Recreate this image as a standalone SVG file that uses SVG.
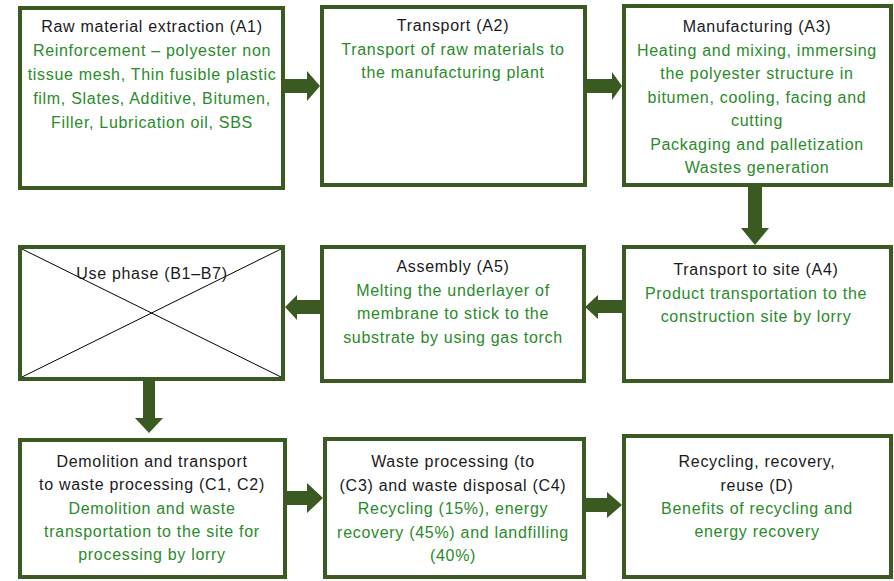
<svg xmlns="http://www.w3.org/2000/svg" width="894" height="581" viewBox="0 0 894 581">
<style>
.box{fill:#fff;stroke:#3a5a22;stroke-width:4}
.arr{fill:#3a5a22}
text{font-family:"Liberation Sans",Arial,sans-serif;font-size:16px;letter-spacing:0.7px;text-anchor:middle}
.t{fill:#1a1a1a}
.g{fill:#2a8a2a}
.x{stroke:#000;stroke-width:1}
</style>
<rect width="894" height="581" fill="#fff"/>
<g id="connectors">
<polygon class="arr" points="285,79 307,79 307,71 320,86 307,101 307,93 285,93"/>
<polygon class="arr" points="587,79 612,79 612,72 622,86 612,100 612,93 587,93"/>
<polygon class="arr" points="748,187 762,187 762,228 769,228 755,245 741,228 748,228"/>
<polygon class="arr" points="622,300 598,300 598,295 585,307 598,319 598,313 622,313"/>
<polygon class="arr" points="320,300 297,300 297,295 285,307 297,320 297,314 320,314"/>
<polygon class="arr" points="143,381 155,381 155,418 163,418 149,433 135,418 143,418"/>
<polygon class="arr" points="287,491 307,491 307,483 323,498 307,513 307,505 287,505"/>
<polygon class="arr" points="586,498 607,498 607,492 622,505 607,518 607,512 586,512"/>
</g>
<g id="a1">
<rect class="box" x="20" y="8" width="263" height="180"/>
<text class="t" x="152" y="32">Raw material extraction (A1)</text>
<text class="g" x="152" y="56">Reinforcement – polyester non</text>
<text class="g" x="152" y="80">tissue mesh, Thin fusible plastic</text>
<text class="g" x="152" y="104">film, Slates, Additive, Bitumen,</text>
<text class="g" x="152" y="128">Filler, Lubrication oil, SBS</text>
</g>
<g id="a2">
<rect class="box" x="322" y="7" width="263" height="178"/>
<text class="t" x="453" y="31">Transport (A2)</text>
<text class="g" x="453" y="54.5">Transport of raw materials to</text>
<text class="g" x="453" y="78">the manufacturing plant</text>
</g>
<g id="a3">
<rect class="box" x="624" y="6" width="267" height="179"/>
<text class="t" x="757" y="32">Manufacturing (A3)</text>
<text class="g" x="757" y="55.5">Heating and mixing, immersing</text>
<text class="g" x="757" y="79">the polyester structure in</text>
<text class="g" x="757" y="102.5">bitumen, cooling, facing and</text>
<text class="g" x="757" y="126">cutting</text>
<text class="g" x="757" y="149.5">Packaging and palletization</text>
<text class="g" x="757" y="173">Wastes generation</text>
</g>
<g id="use">
<rect class="box" x="20" y="247" width="263" height="132"/>
<line class="x" x1="22" y1="249" x2="281" y2="377"/>
<line class="x" x1="281" y1="249" x2="22" y2="377"/>
<text class="t" x="152" y="279">Use phase (B1–B7)</text>
</g>
<g id="a5">
<rect class="box" x="322" y="247" width="262" height="134"/>
<text class="t" x="453" y="272">Assembly (A5)</text>
<text class="g" x="453" y="295.5">Melting the underlayer of</text>
<text class="g" x="453" y="319">membrane to stick to the</text>
<text class="g" x="453" y="342.5">substrate by using gas torch</text>
</g>
<g id="a4">
<rect class="box" x="624" y="247" width="267" height="134"/>
<text class="t" x="756" y="275">Transport to site (A4)</text>
<text class="g" x="756" y="298.5">Product transportation to the</text>
<text class="g" x="756" y="322">construction site by lorry</text>
</g>
<g id="c1">
<rect class="box" x="20" y="440" width="265" height="137"/>
<text class="t" x="152" y="467">Demolition and transport</text>
<text class="t" x="152" y="490">to waste processing (C1, C2)</text>
<text class="g" x="152" y="513.5">Demolition and waste</text>
<text class="g" x="152" y="537">transportation to the site for</text>
<text class="g" x="152" y="560">processing by lorry</text>
</g>
<g id="c2">
<rect class="box" x="325" y="439" width="259" height="138"/>
<text class="t" x="453" y="467">Waste processing (to</text>
<text class="t" x="453" y="490.5">(C3) and waste disposal (C4)</text>
<text class="g" x="453" y="514">Recycling (15%), energy</text>
<text class="g" x="453" y="537.5">recovery (45%) and landfilling</text>
<text class="g" x="453" y="561">(40%)</text>
</g>
<g id="d">
<rect class="box" x="624" y="436" width="267" height="141"/>
<text class="t" x="757" y="467">Recycling, recovery,</text>
<text class="t" x="757" y="490.5">reuse (D)</text>
<text class="g" x="757" y="514">Benefits of recycling and</text>
<text class="g" x="757" y="537">energy recovery</text>
</g>
</svg>
